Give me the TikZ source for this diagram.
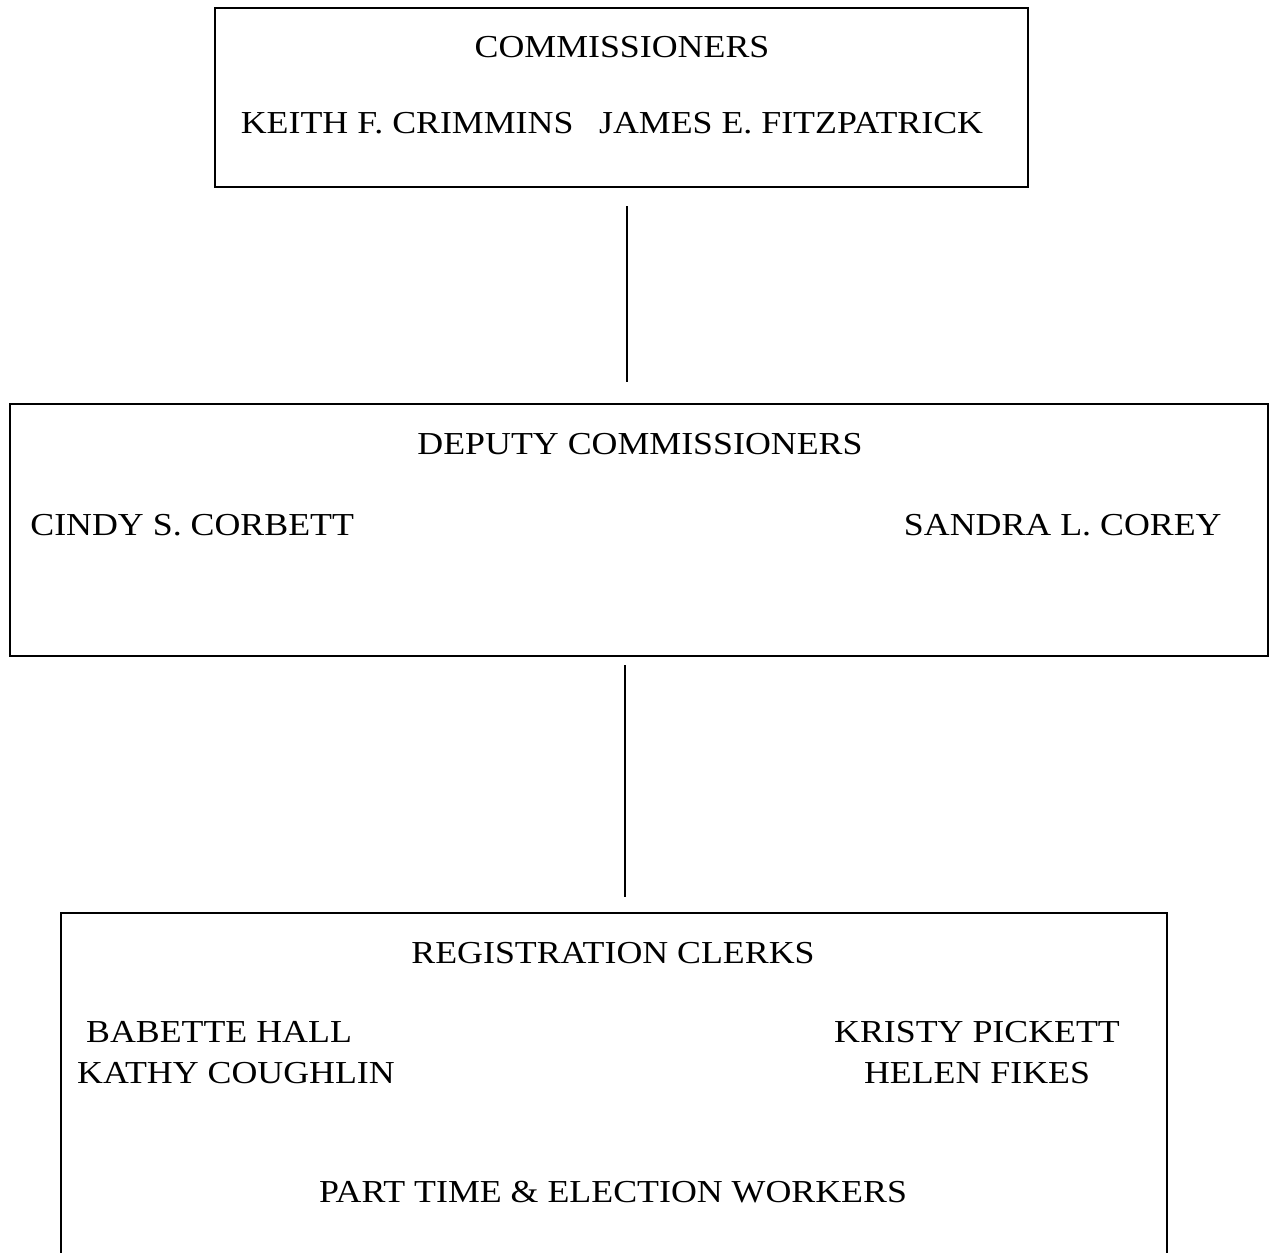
\documentclass[tikz,border=0pt]{standalone}
\usepackage{fontspec}
\setmainfont{Liberation Serif}[FakeStretch=1.12]
\begin{document}
\begin{tikzpicture}[x=0.5pt,y=-0.5pt,
  box/.style={draw=black, line width=1pt, inner sep=0pt, fill=none},
  lbl/.style={anchor=base, inner sep=0pt, font=\fontsize{16}{20}\selectfont},
  link/.style={draw=black, line width=0.6pt}]
\useasboundingbox (0,0) rectangle (1270,1253);
\clip (0,0) rectangle (1270,1253);
% boxes
\node[box, minimum width=813*0.5pt, minimum height=179*0.5pt] (b1) at (621.5,97.5) {};
\node[box, minimum width=1258*0.5pt, minimum height=252*0.5pt] (b2) at (639,530) {};
\node[box, minimum width=1106*0.5pt, minimum height=380*0.5pt] (b3) at (614,1103) {};
% texts
\node[lbl] (t1) at (622,57) {COMMISSIONERS};
\node[lbl] (t2) at (612,133) {KEITH F. CRIMMINS\hspace{0.8em}JAMES E. FITZPATRICK};
\node[lbl] (t3) at (640,454) {DEPUTY COMMISSIONERS};
\node[lbl, anchor=base west] (t4) at (30,535) {CINDY S. CORBETT};
\node[lbl, anchor=base east] (t5) at (1222,535) {SANDRA L. COREY};
\node[lbl] (t6) at (613,963) {REGISTRATION CLERKS};
\node[lbl] (t7) at (219,1042) {BABETTE HALL};
\node[lbl] (t8) at (236,1083) {KATHY COUGHLIN};
\node[lbl] (t9) at (977,1042) {KRISTY PICKETT};
\node[lbl] (t10) at (977,1083) {HELEN FIKES};
\node[lbl] (t11) at (613,1202) {PART TIME \& ELECTION WORKERS};
% connectors
\coordinate (l1) at (627,0);
\coordinate (l2) at (625,0);
\draw[link, shorten <=9pt, shorten >=10.5pt] (b1.south -| l1) -- (b2.north -| l1);
\draw[link, shorten <=4pt, shorten >=7.5pt] (b2.south -| l2) -- (b3.north -| l2);
\end{tikzpicture}
\end{document}
